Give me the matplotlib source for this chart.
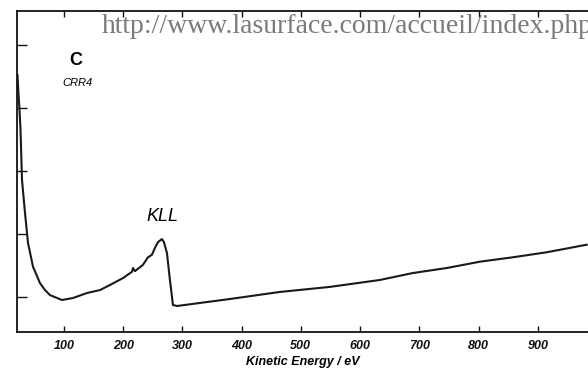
import matplotlib
matplotlib.use("Agg")
import matplotlib.pyplot as plt

# Auger spectrum of carbon (CRR4), N(E) in arbitrary units
energy_ev = [21.5, 23.2, 24.6, 26.6, 29.1, 34.2, 39.2, 47.7, 59.5, 67.9, 76.4,
             96.6, 115.2, 138.8, 160.8, 177.6, 199.6, 214.8, 216.5, 219.8,
             233.3, 241.8, 248.5, 253.6, 258.6, 265.4, 268.8, 273.8, 278.9,
             284.0, 290.7, 329.5, 380.2, 464.6, 548.9, 633.3, 689.0, 746.4,
             802.1, 857.8, 915.2, 982.7]
intensity = [4.52, 4.21, 4.02, 3.65, 2.86, 2.33, 1.86, 1.48, 1.22, 1.11, 1.03,
             0.952, 0.984, 1.063, 1.11, 1.19, 1.30, 1.40, 1.46, 1.41,
             1.51, 1.63, 1.67, 1.78, 1.87, 1.92, 1.87, 1.70, 1.27,
             0.873, 0.857, 0.905, 0.968, 1.08, 1.16, 1.27, 1.38, 1.46,
             1.56, 1.63, 1.71, 1.83]

x_ticks = [100, 200, 300, 400, 500, 600, 700, 800, 900]
y_ticks = [1, 2, 3, 4, 5]

fig = plt.figure(figsize=(5.88, 3.73), dpi=100)
ax = fig.add_axes([0.02976, 0.1099, 0.9855, 0.8606])

ax.plot(energy_ev, intensity, color="#1a1a1a", lw=1.5)

ax.set_xlim(21.5, 1000)
ax.set_ylim(0.444, 5.54)

for side in ("left", "bottom", "top"):
    ax.spines[side].set_linewidth(1.3)
    ax.spines[side].set_color("#111111")
ax.spines["right"].set_visible(False)

ax.set_xticks(x_ticks)
ax.set_xticklabels([str(v) for v in x_ticks])
ax.set_yticks(y_ticks)
ax.set_yticklabels([])
ax.tick_params(axis="x", direction="in", length=4, width=1, top=True,
               pad=6, colors="#111111")
ax.tick_params(axis="y", direction="in", length=7, width=1, right=False,
               colors="#111111")
for lab in ax.get_xticklabels():
    lab.set_family("Liberation Sans")
    lab.set_fontweight("bold")
    lab.set_fontstyle("italic")
    lab.set_fontsize(9)

ax.set_xlabel("Kinetic Energy / eV", family="Liberation Sans",
              fontweight="bold", fontstyle="italic", fontsize=9)
ax.xaxis.set_label_coords(0.4927, -0.075)

ax.text(120, 4.76, "C", family="Liberation Sans", fontweight="bold",
        fontsize=13, ha="center", va="center")
ax.text(123, 4.40, "CRR4", family="Liberation Sans", fontstyle="italic",
        fontsize=8, ha="center", va="center")
ax.text(267, 2.27, "KLL", family="Liberation Sans", fontstyle="italic",
        fontsize=13, ha="center", va="center")

fig.text(102 / 588, 1 - 33 / 373, "http://www.lasurface.com/accueil/index.php",
         family="Liberation Serif", fontsize=20, color="#7a7a7a",
         ha="left", va="baseline")

fig.savefig("out.png", dpi=100)
